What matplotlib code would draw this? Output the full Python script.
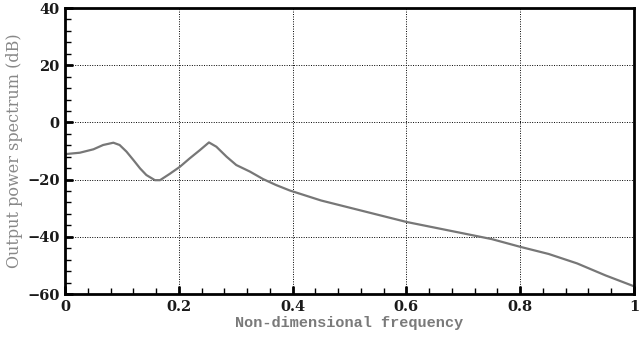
import numpy as np
import matplotlib.pyplot as plt
from matplotlib.ticker import MultipleLocator

# values
freq = [0.00, 0.026, 0.05, 0.067, 0.085, 0.096, 0.108, 0.12, 0.132, 0.143,
        0.158, 0.167, 0.184, 0.202, 0.219, 0.237, 0.253, 0.266, 0.284, 0.301,
        0.325, 0.348, 0.371, 0.395, 0.45, 0.50, 0.55, 0.60, 0.65, 0.70,
        0.75, 0.80, 0.85, 0.90, 0.95, 1.00]
power_db = [-11.1, -10.6, -9.4, -7.9, -7.1, -7.9, -10.2, -13.1, -16.1, -18.4,
            -20.2, -20.2, -18.0, -15.5, -12.6, -9.7, -7.0, -8.5, -12.0, -14.9,
            -17.2, -19.8, -21.9, -23.8, -27.3, -29.8, -32.3, -34.8, -36.8, -38.8,
            -40.8, -43.5, -46.0, -49.3, -53.5, -57.3]

xticks = [0, 0.2, 0.4, 0.6, 0.8, 1]
xticklabels = ["0", "0.2", "0.4", "0.6", "0.8", "1"]
yticks = [-60, -40, -20, 0, 20, 40]

fig = plt.figure(figsize=(6.41, 3.39), dpi=100)
ax = fig.add_axes([0.1014, 0.1327, 0.8877, 0.8437])

ax.plot(freq, power_db, color="#777777", lw=1.6)

ax.set_xlim(0, 1)
ax.set_ylim(-60, 40)
ax.set_xticks(xticks)
ax.set_xticklabels(xticklabels)
ax.set_yticks(yticks)
ax.xaxis.set_minor_locator(MultipleLocator(0.04))
ax.yaxis.set_minor_locator(MultipleLocator(4))

ax.tick_params(which="major", direction="in", length=6, width=2, pad=4)
ax.tick_params(which="minor", direction="in", length=4, width=1)
for lab in ax.get_xticklabels() + ax.get_yticklabels():
    lab.set_family("DejaVu Serif")
    lab.set_fontweight("bold")
    lab.set_fontsize(10.5)
    lab.set_color("#1a1a1a")

for s in ax.spines.values():
    s.set_linewidth(2)

ax.grid(True, which="major", color="black", linestyle=(0, (1, 1.5)), lw=0.7)

ax.set_xlabel("Non-dimensional frequency", family="Liberation Mono",
              fontsize=11, fontweight="bold", color="#7a7a7a", labelpad=2)
ax.set_ylabel("Output power spectrum (dB)", family="DejaVu Serif",
              fontsize=11.5, color="#888888", labelpad=3)

fig.savefig("out.png", dpi=100)
